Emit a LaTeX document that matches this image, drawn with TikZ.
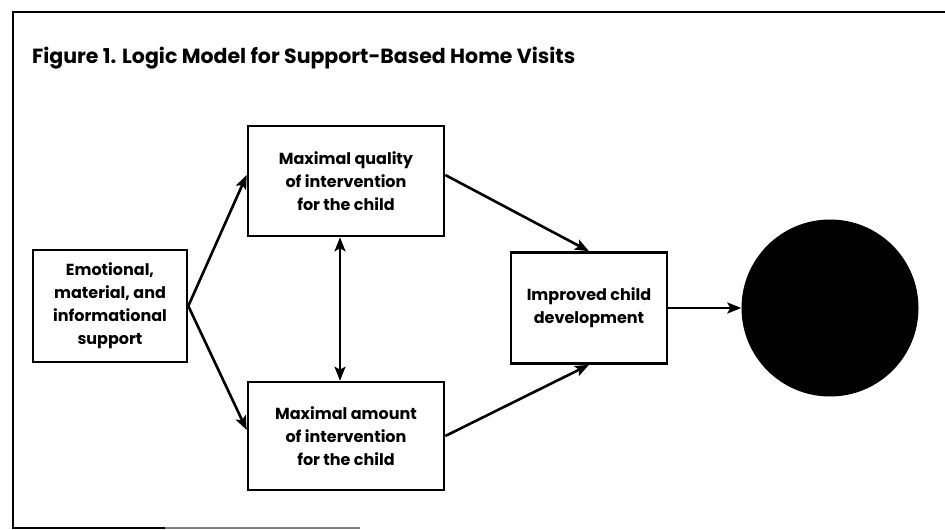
\documentclass[tikz,border=0pt]{standalone}
\usepackage{fontspec}
\setmainfont{Poppins}
\usetikzlibrary{arrows.meta}
\tikzset{
  box/.style = {draw, line width=2.6pt, align=center, font=\bfseries\fontsize{16}{23}\selectfont, inner sep=0pt},
  arr/.style = {line width=2.6pt, -{Stealth[length=14pt,width=11pt,inset=3pt]}},
}
\begin{document}
\begin{tikzpicture}[x=1pt, y=-1pt]
\useasboundingbox (0,0) rectangle (945,530);
\draw [line width=2.4pt] (945,12) -- (13,12) -- (13,528) -- (165,528);
\draw [line width=2.4pt, color=gray] (165,528) -- (360,528);
\node (title) [anchor=base west, inner sep=0pt, font=\bfseries\fontsize{20.5}{22}\selectfont] at (32,63) {Figure 1. Logic Model for Support-Based Home Visits};
\node (sup) [box, minimum width=154pt, minimum height=112pt] at (110,306) {Emotional,\\material, and\\informational\\support};
\node (qual) [box, minimum width=196pt, minimum height=110pt] at (346,181) {Maximal quality\\of intervention\\for the child};
\node (amt) [box, minimum width=196pt, minimum height=108pt] at (346,436) {Maximal amount\\of intervention\\for the child};
\node (imp) [box, minimum width=156pt, minimum height=111pt] at (589,308) {Improved child\\development};
\node (out) [circle, fill=black, minimum size=177pt, inner sep=0pt] at (830,308) {};
\draw [arr] (sup.east) -- ([yshift=6pt]qual.west);
\draw [arr] (sup.east) -- ([yshift=6pt]amt.west);
\draw [arr, {Stealth[length=14pt,width=11pt,inset=3pt]}-{Stealth[length=14pt,width=11pt,inset=3pt]}] ([xshift=-6pt]qual.south) -- ([xshift=-6pt]amt.north);
\draw [arr] ([yshift=6pt]qual.east) -- (imp.north);
\draw [arr] (amt.east) -- (imp.south);
\draw [arr] (imp.east) -- (out.west);
\end{tikzpicture}
\end{document}
